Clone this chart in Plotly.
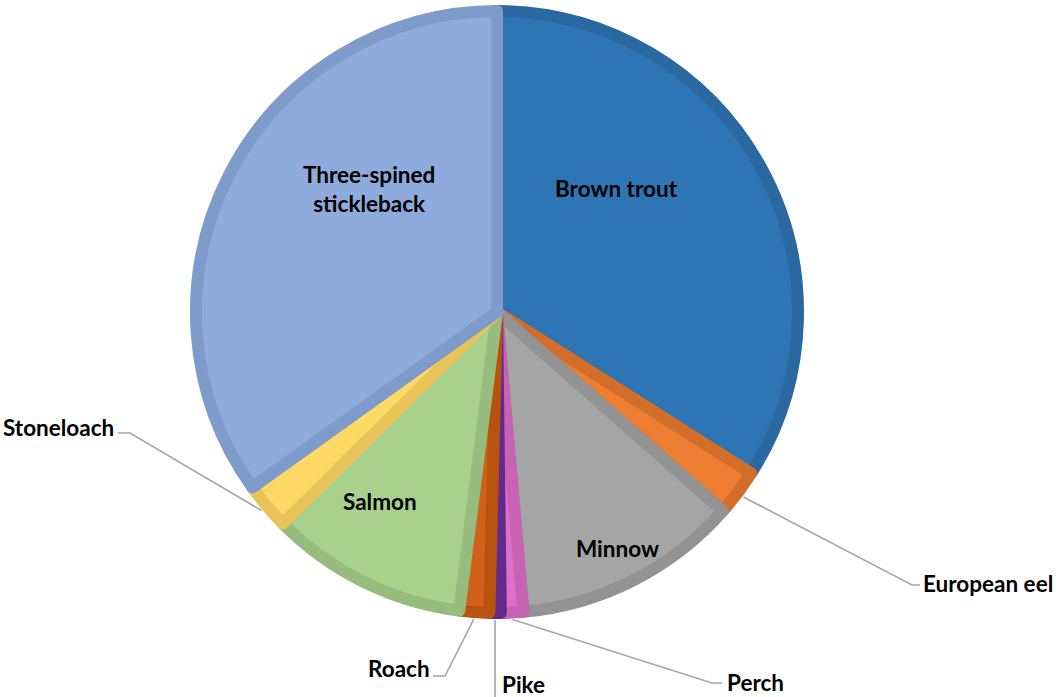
import math
import plotly.graph_objects as go

# ---- data ----
species = ["Brown trout", "European eel", "Minnow", "Perch", "Pike",
           "Roach", "Salmon", "Stoneloach", "Three-spined stickleback"]
share = [34.0, 2.5, 12.1, 1.2, 0.6, 1.6, 10.6, 2.5, 34.9]
fill_colors = ["#2E75B6", "#ED7D31", "#A5A5A5", "#DE70C8", "#7030A0",
               "#D2601A", "#A9D18E", "#FFD966", "#8FAADC"]
edge_colors = ["#2A68A2", "#D26E2A", "#939393", "#C862B3", "#62298E",
               "#B8520F", "#97BD7E", "#E8C458", "#7F9BCC"]

W, H = 1060, 697
CX, CY, R = 497, 312, 301  # pie centre / radius in px (layout)

fig = go.Figure(go.Pie(
    labels=species,
    values=share,
    sort=False,
    direction="clockwise",
    rotation=0,
    textinfo="none",
    hoverinfo="label+percent",
    marker=dict(colors=fill_colors, line=dict(color=edge_colors, width=12)),
    domain=dict(x=[(CX - R) / W, (CX + R) / W],
                y=[1 - (CY + R) / H, 1 - (CY - R) / H]),
    showlegend=False,
))

def px2paper(x, y):
    return x / W, 1 - y / H

# mid angle of each slice (degrees clockwise from 12 o'clock)
total = sum(share)
mids = []
acc = 0.0
for v in share:
    mids.append((acc + v / 2) / total * 360)
    acc += v

def edge_point(i, r=308):
    a = math.radians(mids[i])
    return CX + r * math.sin(a), CY - r * math.cos(a)

font = dict(family="Lato, Open Sans, sans-serif", size=22.5, color="#000000", weight="bold")
annotations = []
shapes = []

# inside labels (layout positions)
inside = {
    "Brown trout": (616, 188, "Brown trout"),
    "Three-spined stickleback": (369, 189, "Three-spined<br>stickleback"),
    "Salmon": (380, 501, "Salmon"),
    "Minnow": (617, 548, "Minnow"),
}
for name, (x, y, txt) in inside.items():
    px, py = px2paper(x, y)
    annotations.append(dict(x=px, y=py, xref="paper", yref="paper", text=txt,
                            showarrow=False, font=font, xanchor="center",
                            yanchor="middle", align="center"))

# outside labels with elbow leader lines: (label anchor x, y, xanchor, elbow pts)
outside = {
    "Stoneloach": (116, 428, "right", [(130, 433), (118, 433)]),
    "European eel": (921, 583, "left", [(912, 585), (920, 585)]),
    "Perch": (725, 682, "left", [(712, 683), (722, 683)]),
    "Pike": (500, 684, "left", [(497, 697)]),
    "Roach": (432, 668, "right", [(445, 676), (433, 676)]),
}
for name, (x, y, xa, pts) in outside.items():
    i = species.index(name)
    sx, sy = edge_point(i)
    if name == "Pike":
        pts = [(sx, 697)]
    path_pts = [(sx, sy)] + pts
    d = ""
    for k, (qx, qy) in enumerate(path_pts):
        ppx, ppy = px2paper(qx, qy)
        d += ("M" if k == 0 else "L") + f"{ppx:.5f},{ppy:.5f} "
    shapes.append(dict(type="path", path=d.strip(), xref="paper", yref="paper",
                       line=dict(color="#A6A6A6", width=1.6), layer="above"))
    px, py = px2paper(x, y)
    annotations.append(dict(x=px, y=py, xref="paper", yref="paper", text=name,
                            showarrow=False, font=font, xanchor=xa,
                            yanchor="middle"))

fig.update_layout(
    width=W, height=H,
    margin=dict(l=0, r=0, t=0, b=0),
    paper_bgcolor="#FFFFFF",
    plot_bgcolor="#FFFFFF",
    annotations=annotations,
    shapes=shapes,
)

fig.write_html("out.html")
